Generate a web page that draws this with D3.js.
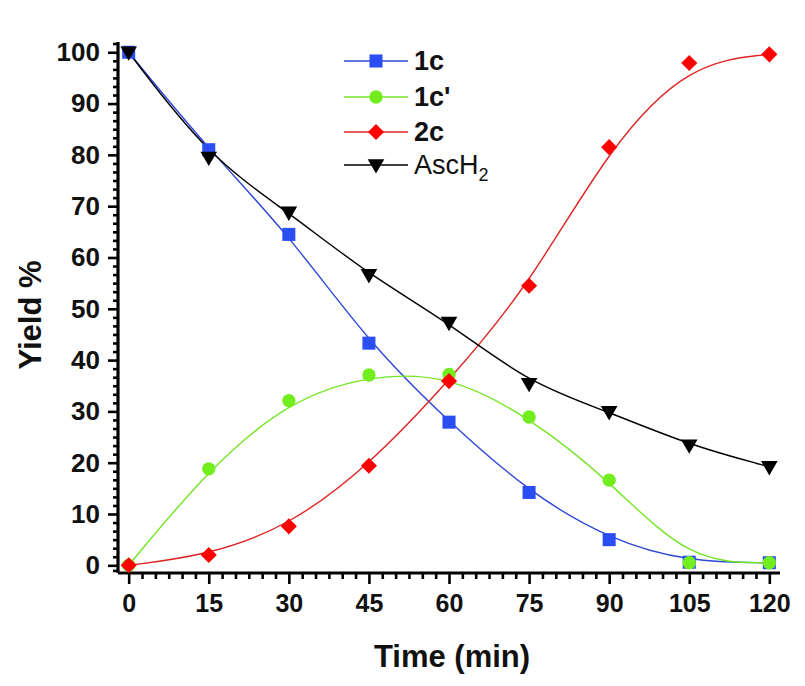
<!DOCTYPE html>
<html>
<head>
<meta charset="utf-8">
<script src="https://cdn.jsdelivr.net/npm/d3@7"></script>
<style>
  html, body { margin: 0; padding: 0; background: #fff; }
  svg { display: block; }
  text { font-family: "Liberation Sans", Arial, sans-serif; }
</style>
</head>
<body>
<svg id="chart" width="805" height="686"></svg>
<script>
// ---- data ----
const times = [0, 15, 30, 45, 60, 75, 90, 105, 120];
const y1c    = [100, 81, 64.5, 43.3, 27.9, 14.2, 5.0, 0.6, 0.5];
const y1cp   = [0, 18.8, 32.1, 37.1, 37.2, 28.9, 16.6, 0.5, 0.5];
const y2c    = [0, 2.0, 7.6, 19.4, 35.9, 54.5, 81.5, 97.9, 99.6];
const yAsc   = [100, 79.5, 68.8, 56.6, 47.3, 35.4, 29.9, 23.4, 19.2];
const xTicks = [0, 15, 30, 45, 60, 75, 90, 105, 120];
const yTicks = [0, 10, 20, 30, 40, 50, 60, 70, 80, 90, 100];
const seriesNames = ["1c", "1c'", "2c", "AscH2"];

const series = [
  { name: seriesNames[0], values: y1c,  line: "#2d48d8", fill: "#2b4ef2", symbol: d3.symbolSquare,   size: 170, angle: 0,   bold: true },
  { name: seriesNames[1], values: y1cp, line: "#74e626", fill: "#72ee1e", symbol: d3.symbolCircle,   size: 140, angle: 0,   bold: true },
  { name: seriesNames[2], values: y2c,  line: "#e02222", fill: "#ff0000", symbol: d3.symbolSquare,   size: 130, angle: 45,  bold: true },
  { name: seriesNames[3], values: yAsc, line: "#000000", fill: "#000000", symbol: d3.symbolTriangle, size: 120, angle: 180, bold: false }
];

const svg = d3.select("#chart");
const x = d3.scaleLinear().domain([-2, 122]).range([118, 780]);
const y = d3.scaleLinear().domain([-1.5, 102]).range([573, 42]);

// minor ticks: 5 between each pair of majors
const xMinor = [];
for (let i = 0; i < xTicks.length - 1; i++)
  for (let k = 1; k < 6; k++) xMinor.push(xTicks[i] + k * (xTicks[i+1] - xTicks[i]) / 6);
const yMinor = [];
for (let i = 0; i < yTicks.length - 1; i++)
  for (let k = 1; k < 6; k++) yMinor.push(yTicks[i] + k * (yTicks[i+1] - yTicks[i]) / 6);
yMinor.push(-1.0, 101.7);

// ---- axes ----
const gx = svg.append("g").attr("transform", `translate(0,${y.range()[0]})`);
gx.call(d3.axisBottom(x).tickValues(xTicks).tickSize(11).tickPadding(10).tickFormat(d3.format("d")));
const gxm = svg.append("g").attr("transform", `translate(0,${y.range()[0]})`);
gxm.call(d3.axisBottom(x).tickValues(xMinor).tickSize(6).tickFormat(""));

const gy = svg.append("g").attr("transform", `translate(${x.range()[0]},0)`);
gy.call(d3.axisLeft(y).tickValues(yTicks).tickSize(10).tickPadding(8).tickFormat(d3.format("d")));
const gym = svg.append("g").attr("transform", `translate(${x.range()[0]},0)`);
gym.call(d3.axisLeft(y).tickValues(yMinor).tickSize(5).tickFormat(""));

[gx, gxm, gy, gym].forEach(g => {
  g.select(".domain").attr("stroke", "#000").attr("stroke-width", 3.2);
  g.selectAll(".tick line").attr("stroke", "#000").attr("stroke-width", 2.6);
});
[gxm, gym].forEach(g => g.select(".domain").remove());
gx.select(".domain").attr("d", `M${x.range()[0]},0H${x.range()[1]}`);
gy.select(".domain").attr("d", `M0,${y.range()[0]}V${y.range()[1]}`);

gx.selectAll(".tick text")
  .attr("font-size", 25).attr("font-weight", "bold").attr("fill", "#111")
  .attr("font-family", "'Liberation Sans', Arial, sans-serif");
gy.selectAll(".tick text")
  .attr("font-size", 26).attr("font-weight", "bold").attr("fill", "#111")
  .attr("font-family", "'Liberation Sans', Arial, sans-serif");

// axis titles
svg.append("text")
  .attr("x", 452).attr("y", 667)
  .attr("text-anchor", "middle")
  .attr("font-size", 31).attr("font-weight", "bold").attr("fill", "#111")
  .text("Time (min)");
svg.append("text")
  .attr("transform", "translate(41,315) rotate(-90)")
  .attr("text-anchor", "middle")
  .attr("font-size", 31).attr("font-weight", "bold").attr("fill", "#111")
  .text("Yield %");

// ---- lines ----
const line = d3.line()
  .x((d, i) => x(times[i]))
  .y(d => y(d))
  .curve(d3.curveBasis);

series.forEach(s => {
  svg.append("path")
    .datum(s.values)
    .attr("fill", "none")
    .attr("stroke", s.line)
    .attr("stroke-width", 1.4)
    .attr("d", line);
});

// ---- markers ----
series.forEach(s => {
  const sym = d3.symbol().type(s.symbol).size(s.size);
  svg.append("g").selectAll("path")
    .data(s.values)
    .join("path")
    .attr("d", sym)
    .attr("fill", s.fill)
    .attr("transform", (d, i) => `translate(${x(times[i])},${y(d) + (s.angle === 180 ? -1 : 0)}) rotate(${s.angle})`);
});

// ---- legend ----
const legRows = [61, 97, 132, 165];
const leg = svg.append("g");
series.forEach((s, i) => {
  const ly = legRows[i];
  leg.append("line")
    .attr("x1", 344).attr("x2", 408).attr("y1", ly).attr("y2", ly)
    .attr("stroke", s.line).attr("stroke-width", 1.6);
  leg.append("path")
    .attr("d", d3.symbol().type(s.symbol).size(s.size)())
    .attr("fill", s.fill)
    .attr("transform", `translate(376,${ly + (s.angle === 180 ? -1 : 0)}) rotate(${s.angle})`);
  const t = leg.append("text")
    .attr("x", 414).attr("y", ly + 9)
    .attr("font-size", 27)
    .attr("font-weight", s.bold ? "bold" : "normal")
    .attr("fill", "#111");
  if (s.name === "AscH2") {
    t.append("tspan").text("AscH");
    t.append("tspan").attr("font-size", 18).attr("dy", 7).text("2");
  } else {
    t.text(s.name);
  }
});
</script>
</body>
</html>
